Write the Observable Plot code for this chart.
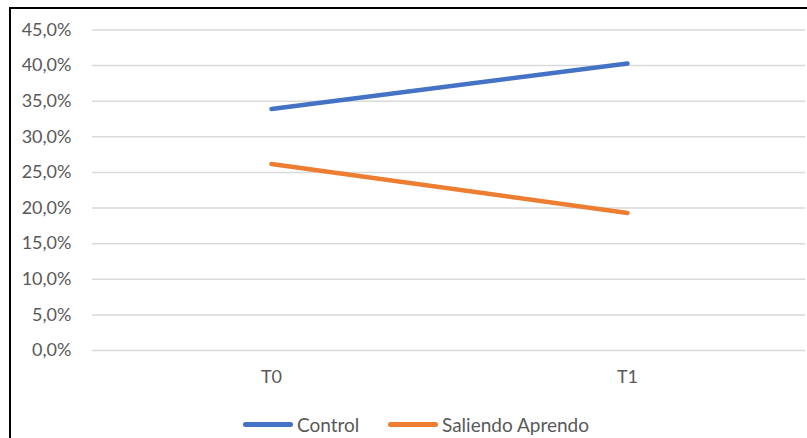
<!DOCTYPE html>
<html>
<head>
<meta charset="utf-8">
<script src="https://cdn.jsdelivr.net/npm/d3@7"></script>
<script src="https://cdn.jsdelivr.net/npm/@observablehq/plot@0.6"></script>
<style>
  html, body { margin: 0; padding: 0; background: #fff; }
  body { width: 807px; height: 438px; overflow: hidden; position: relative; font-family: Lato, "Open Sans", sans-serif; }
  #frame { position: absolute; left: 9px; top: 7px; width: 820px; height: 460px; border-left: 2px solid #000; border-top: 2px solid #000; box-sizing: border-box; pointer-events: none; }
  #chart { position: absolute; left: 0; top: 0; }
  #legend { position: absolute; left: 0; top: 413px; width: 807px; font-size: 19px; color: #595959; }
  .item { position: absolute; top: 0; display: flex; align-items: center; }
  .sw { display: inline-block; width: 50px; height: 5px; border-radius: 3px; margin-right: 4px; }
</style>
</head>
<body>
<div id="chart"></div>
<div id="legend"></div>
<div id="frame"></div>
<script>
const categories = ["T0", "T1"];
const seriesNames = ["Control", "Saliendo Aprendo"];
const controlValues = [33.9, 40.3];
const saliendoValues = [26.2, 19.3];
const yTicks = [0, 5, 10, 15, 20, 25, 30, 35, 40, 45];
const colors = ["#4472C4", "#ED7D31"];

const data = [];
categories.forEach((c, i) => {
  data.push({cat: c, series: seriesNames[0], value: controlValues[i]});
  data.push({cat: c, series: seriesNames[1], value: saliendoValues[i]});
});

const fmt = d => d.toFixed(1).replace(".", ",") + "%";

const chart = Plot.plot({
  width: 807,
  height: 400,
  marginTop: 29.5,
  marginBottom: 50,
  marginLeft: 92,
  marginRight: 2,
  style: {fontFamily: "Lato, 'Open Sans', sans-serif", fontSize: "18px", color: "#595959", background: "transparent"},
  x: {type: "point", domain: categories, padding: 0.5, axis: null},
  y: {domain: [0, 45], ticks: yTicks, axis: null},
  color: {domain: seriesNames, range: colors},
  marks: [
    Plot.ruleY(yTicks, {stroke: "#D9D9D9", strokeWidth: 1.5}),
    Plot.axisY({ticks: yTicks, tickSize: 0, tickPadding: 21, tickFormat: fmt, fill: "#595959", fontSize: 18, label: null}),
    Plot.axisX({domain: categories, tickSize: 0, tickPadding: 20, fill: "#595959", fontSize: 18, label: null}),
    Plot.line(data, {x: "cat", y: "value", z: "series", stroke: "series", strokeWidth: 4.5, strokeLinecap: "round"})
  ]
});
document.getElementById("chart").appendChild(chart);

const legend = document.getElementById("legend");
const legendLefts = [243, 388];
seriesNames.forEach((s, i) => {
  const item = document.createElement("div");
  item.className = "item";
  item.style.left = legendLefts[i] + "px";
  const sw = document.createElement("span");
  sw.className = "sw";
  sw.style.background = colors[i];
  const t = document.createElement("span");
  t.textContent = s;
  item.appendChild(sw);
  item.appendChild(t);
  legend.appendChild(item);
});
</script>
</body>
</html>
